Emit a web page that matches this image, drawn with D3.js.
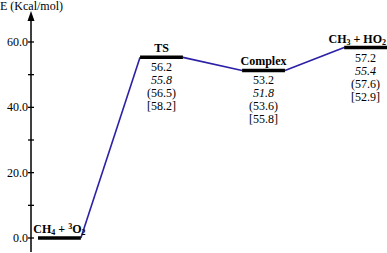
<!DOCTYPE html>
<html>
<head>
<meta charset="utf-8">
<script src="https://cdn.jsdelivr.net/npm/d3@7"></script>
<style>
  body { margin: 0; background: #fff; }
  svg text { font-family: "Liberation Serif", "Times New Roman", Tinos, "DejaVu Serif", serif; }
</style>
</head>
<body>
<div id="chart"></div>
<script>
// stages of the reaction path
var stages = ["CH4 + 3O2", "TS", "Complex", "CH3 + HO2"];
// level heights as drawn on the axis (kcal/mol)
var levels = [0, 55.3, 51.3, 58.3];
// energies printed under each level, four rows per stage
var row1 = ["", "56.2", "53.2", "57.2"];
var row2 = ["", "55.8", "51.8", "55.4"];
var row3 = ["", "(56.5)", "(53.6)", "(57.6)"];
var row4 = ["", "[58.2]", "[55.8]", "[52.9]"];
var yTicks = [0, 10, 20, 30, 40, 50, 60];
var yLabels = ["0.0", "", "20.0", "", "40.0", "", "60.0"];

// label parts: [text, kind] kind = n normal, sub, sup
var stageLabels = [
  [["CH", "n"], ["4", "sub"], [" + ", "n"], ["3", "sup"], ["O", "n"], ["2", "sub"]],
  [["TS", "n"]],
  [["Complex", "n"]],
  [["CH", "n"], ["3", "sub"], [" + HO", "n"], ["2", "sub"]]
];

var width = 387, height = 253;
var axisX = 31;

var svg = d3.select("#chart").append("svg")
  .attr("width", width)
  .attr("height", height);

var y = d3.scaleLinear()
  .domain([0, 60])
  .range([238, 42]);

var x = d3.scaleBand()
  .domain(stages)
  .range([38, 387])
  .paddingInner(0.58)
  .paddingOuter(0);

// axis line + arrow
svg.append("line")
  .attr("x1", axisX).attr("x2", axisX)
  .attr("y1", 252).attr("y2", 18)
  .attr("stroke", "#000")
  .attr("stroke-width", 1.5);

svg.append("path")
  .attr("d", "M" + (axisX - 3.5) + ",21 L" + axisX + ",11 L" + (axisX + 3.5) + ",21 Z")
  .attr("fill", "#000");

// y ticks
var yAxis = svg.append("g")
  .attr("transform", "translate(" + axisX + ",0)");

yAxis.selectAll(".tick")
  .data(yTicks)
  .enter()
  .append("line")
    .attr("x1", -3)
    .attr("x2", 3)
    .attr("y1", function(d) { return y(d); })
    .attr("y2", function(d) { return y(d); })
    .attr("stroke", "#000")
    .attr("stroke-width", 1.3);

yAxis.selectAll(".tlabel")
  .data(yTicks)
  .enter()
  .append("text")
    .attr("x", -3)
    .attr("y", function(d) { return y(d) + 4; })
    .attr("text-anchor", "end")
    .style("font-size", "12px")
    .text(function(d, i) { return yLabels[i]; });

svg.append("text")
  .attr("x", 0)
  .attr("y", 10)
  .style("font-size", "12px")
  .text("E (Kcal/mol)");

// connecting lines between levels
var conn = [];
for (var i = 0; i < stages.length - 1; i++) {
  conn.push([i, i + 1]);
}
svg.selectAll(".conn")
  .data(conn)
  .enter()
  .append("line")
    .attr("x1", function(d) { return x(stages[d[0]]) + x.bandwidth(); })
    .attr("y1", function(d) { return y(levels[d[0]]); })
    .attr("x2", function(d) { return x(stages[d[1]]); })
    .attr("y2", function(d) { return y(levels[d[1]]); })
    .attr("stroke", "#2b20a6")
    .attr("stroke-width", 1.6);

// level bars
svg.selectAll(".level")
  .data(stages)
  .enter()
  .append("line")
    .attr("x1", function(d) { return x(d); })
    .attr("x2", function(d) { return x(d) + x.bandwidth(); })
    .attr("y1", function(d, i) { return y(levels[i]); })
    .attr("y2", function(d, i) { return y(levels[i]); })
    .attr("stroke", "#000")
    .attr("stroke-width", 3.5);

// stage labels
stages.forEach(function(s, i) {
  var last = i === stages.length - 1;
  var t = svg.append("text")
    .attr("x", last ? x.range()[1] - 1 : x(s) + x.bandwidth() / 2)
    .attr("y", y(levels[i]) - 5)
    .attr("text-anchor", last ? "end" : "middle")
    .style("font-size", "12px")
    .style("font-weight", "bold");
  var off = 0;
  stageLabels[i].forEach(function(p) {
    var sp = t.append("tspan").text(p[0]);
    var want = 0;
    if (p[1] === "sub") {
      sp.style("font-size", "8px");
      want = 2;
    } else if (p[1] === "sup") {
      sp.style("font-size", "8px");
      want = -4;
    }
    sp.attr("dy", want - off);
    off = want;
  });
});

// energy rows
var rows = [row1, row2, row3, row4];
rows.forEach(function(r, j) {
  svg.selectAll(".row" + j)
    .data(stages)
    .enter()
    .append("text")
      .attr("x", function(d) { return x(d) + x.bandwidth() / 2; })
      .attr("y", function(d, i) { return y(levels[i]) + 14 + j * 13; })
      .attr("text-anchor", "middle")
      .style("font-size", "12px")
      .style("font-style", j === 1 ? "italic" : "normal")
      .text(function(d, i) { return r[i]; });
});
</script>
</body>
</html>
